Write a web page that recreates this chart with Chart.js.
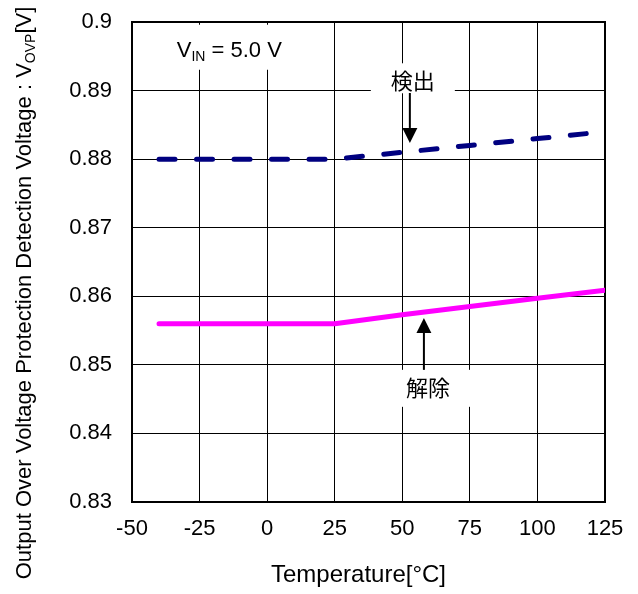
<!DOCTYPE html>
<html>
<head>
<meta charset="utf-8">
<script src="https://cdn.jsdelivr.net/npm/chart.js@4"></script>
<style>
  body { margin: 0; background: #fff; }
  canvas { display: block; }
</style>
</head>
<body>
<canvas id="ovpChart" width="638" height="594"></canvas>
<script>
// temperature sweep and the two OVP thresholds
var temps = [-40, -25, 0, 25, 50, 75, 100, 125];
var detectV = [0.88, 0.88, 0.88, 0.88, 0.881, 0.882, 0.883, 0.884];
var releaseV = [0.856, 0.856, 0.856, 0.856, 0.8573, 0.8585, 0.8597, 0.8609];

var xTickVals = [-50, -25, 0, 25, 50, 75, 100, 125];
var yTickVals = [0.83, 0.84, 0.85, 0.86, 0.87, 0.88, 0.89, 0.9];
var yTickLabels = ['0.83', '0.84', '0.85', '0.86', '0.87', '0.88', '0.89', '0.9'];

var FONT = '"Liberation Sans", Arial, sans-serif';
var JP = '"Noto Sans CJK JP", sans-serif';

function toPoints(ys) {
    return temps.map(function(t, i) { return {x: t, y: ys[i]}; });
}

// text with optional subscript runs, centred on x
function richText(ctx, parts, x, y, size) {
    var subSize = Math.round(size * 0.62);
    var total = 0;
    parts.forEach(function(p) {
        ctx.font = (p.sub ? subSize : size) + 'px ' + FONT;
        p.w = ctx.measureText(p.t).width;
        total += p.w;
    });
    var cx = x - total / 2;
    ctx.textAlign = 'left';
    ctx.textBaseline = 'alphabetic';
    parts.forEach(function(p) {
        ctx.font = (p.sub ? subSize : size) + 'px ' + FONT;
        ctx.fillText(p.t, cx, p.sub ? y + 4 : y);
        cx += p.w;
    });
}

function arrow(ctx, x, yTail, yTip) {
    var dir = yTip > yTail ? 1 : -1;
    var head = 15;
    ctx.save();
    ctx.strokeStyle = '#000';
    ctx.fillStyle = '#000';
    ctx.lineWidth = 2;
    ctx.beginPath();
    ctx.moveTo(x, yTail);
    ctx.lineTo(x, yTip - dir * head);
    ctx.stroke();
    ctx.beginPath();
    ctx.moveTo(x, yTip);
    ctx.lineTo(x - 7.5, yTip - dir * head);
    ctx.lineTo(x + 7.5, yTip - dir * head);
    ctx.closePath();
    ctx.fill();
    ctx.restore();
}

var notesPlugin = {
    id: 'notes',
    beforeDatasetsDraw: function(chart) {
        var ctx = chart.ctx, a = chart.chartArea;
        var xs = chart.scales.x, ys = chart.scales.y;
        ctx.save();
        // top and right frame
        ctx.strokeStyle = '#000';
        ctx.lineWidth = 2;
        ctx.beginPath();
        ctx.moveTo(a.left, a.top);
        ctx.lineTo(a.right, a.top);
        ctx.lineTo(a.right, a.bottom);
        ctx.stroke();

        // label boxes knock out the grid behind them
        ctx.fillStyle = '#fff';
        var vx = xs.getPixelForValue(-14), vy = ys.getPixelForValue(0.8961);
        ctx.fillRect(vx - 62, vy - 24, 124, 45);
        var dx = xs.getPixelForValue(53.9), dy = ys.getPixelForValue(0.8915);
        ctx.fillRect(dx - 42, dy - 17, 84, 30);
        var rx = xs.getPixelForValue(59.5), ry = ys.getPixelForValue(0.84665);
        ctx.fillRect(rx - 46, ry - 18, 92, 37);

        ctx.fillStyle = '#000';
        richText(ctx, [{t: 'V'}, {t: 'IN', sub: true}, {t: ' = 5.0 V'}], vx, vy + 8, 22);
        ctx.font = '22px ' + JP;
        ctx.textAlign = 'center';
        ctx.textBaseline = 'middle';
        ctx.fillText('検出', dx, dy);
        ctx.fillText('解除', rx, ry);
        ctx.restore();
    },
    afterDatasetsDraw: function(chart) {
        var ctx = chart.ctx;
        var xs = chart.scales.x, ys = chart.scales.y;
        arrow(ctx, xs.getPixelForValue(52.8), ys.getPixelForValue(0.88965), ys.getPixelForValue(0.88236));
        arrow(ctx, xs.getPixelForValue(58), ys.getPixelForValue(0.84927), ys.getPixelForValue(0.85685));
    },
    afterDraw: function(chart) {
        var ctx = chart.ctx, a = chart.chartArea;
        ctx.save();
        ctx.fillStyle = '#000';
        // x axis title
        ctx.font = '24px ' + FONT;
        ctx.textAlign = 'center';
        ctx.textBaseline = 'middle';
        ctx.fillText('Temperature[°C]', (a.left + a.right) / 2 - 10, 575);
        // y axis title, rotated, with subscript
        ctx.translate(23, 293);
        ctx.rotate(-Math.PI / 2);
        richText(ctx, [
            {t: 'Output Over Voltage Protection Detection Voltage : V'},
            {t: 'OVP', sub: true},
            {t: '[V]'}
        ], 0, 8, 22);
        ctx.restore();
    }
};

// gaps between axis and tick labels come from invisible tick marks,
// so the tick padding does not push the plot area inwards
var chart = new Chart(document.getElementById('ovpChart'), {
    type: 'line',
    data: {
        datasets: [{
            label: '検出',
            data: toPoints(detectV),
            borderColor: '#000080',
            borderWidth: 5,
            borderDash: [16, 21.5],
            borderCapStyle: 'round',
            borderJoinStyle: 'round',
            pointRadius: 0,
            fill: false,
            tension: 0
        }, {
            label: '解除',
            data: toPoints(releaseV),
            borderColor: '#ff00ff',
            borderWidth: 5,
            borderCapStyle: 'round',
            borderJoinStyle: 'round',
            pointRadius: 0,
            fill: false,
            tension: 0
        }]
    },
    options: {
        responsive: false,
        animation: false,
        layout: {padding: {left: 0, right: 33, top: 22, bottom: 0}},
        plugins: {legend: {display: false}, tooltip: {enabled: false}},
        scales: {
            x: {
                type: 'linear',
                min: -50,
                max: 125,
                afterBuildTicks: function(scale) {
                    scale.ticks = xTickVals.map(function(v) { return {value: v}; });
                },
                afterFit: function(scale) { scale.height = 92; },
                grid: {color: '#000', lineWidth: 1, drawTicks: true, tickLength: 14, tickColor: 'rgba(0,0,0,0)'},
                border: {color: '#000', width: 2},
                ticks: {
                    color: '#000',
                    padding: 0,
                    maxRotation: 0,
                    font: {family: FONT, size: 22}
                }
            },
            y: {
                min: 0.83,
                max: 0.9,
                afterBuildTicks: function(scale) {
                    scale.ticks = yTickVals.map(function(v) { return {value: v}; });
                },
                afterFit: function(scale) { scale.width = 132; },
                grid: {color: '#000', lineWidth: 1, drawTicks: true, tickLength: 20, tickColor: 'rgba(0,0,0,0)'},
                border: {color: '#000', width: 2},
                ticks: {
                    color: '#000',
                    padding: 0,
                    font: {family: FONT, size: 22},
                    callback: function(v, i) { return yTickLabels[i]; }
                }
            }
        }
    },
    plugins: [notesPlugin]
});
</script>
</body>
</html>
